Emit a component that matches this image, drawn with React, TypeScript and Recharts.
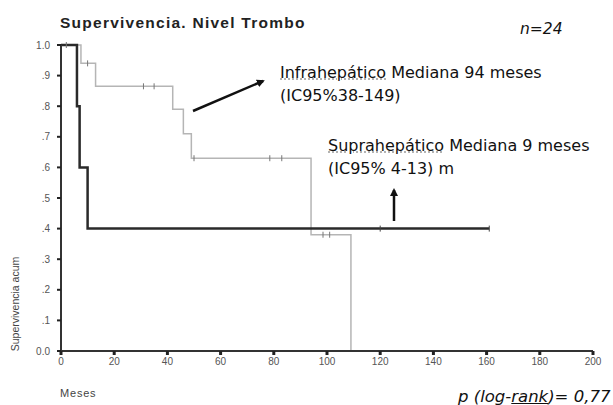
import React from 'react';
import { LineChart, Line, XAxis, YAxis } from 'recharts';

// meses / supervivencia acumulada (c = censurado)
const infraTimes = [0, 2, 7.5, 10, 13, 31, 35, 42, 46, 49, 50, 78.5, 83, 94, 98.5, 101, 109];
const infraSurv = [1, 1, 0.94, 0.94, 0.865, 0.865, 0.865, 0.79, 0.71, 0.63, 0.63, 0.63, 0.63, 0.38, 0.38, 0.38, 0];
const infraCens = [0, 1, 0, 1, 0, 1, 1, 0, 0, 0, 1, 1, 1, 0, 1, 1, 0];

const supraTimes = [0, 6, 7, 10, 120, 161];
const supraSurv = [1, 0.8, 0.6, 0.4, 0.4, 0.4];
const supraCens = [0, 0, 0, 0, 1, 1];

const xTicks = [0, 20, 40, 60, 80, 100, 120, 140, 160, 180, 200];
const yTicks = [0, 0.1, 0.2, 0.3, 0.4, 0.5, 0.6, 0.7, 0.8, 0.9, 1.0];
const yTickLabels = ['0.0', '.1', '.2', '.3', '.4', '.5', '.6', '.7', '.8', '.9', '1.0'];

const build = (t: number[], s: number[], c: number[]) => t.map((v, i) => ({ t: v, s: s[i], c: c[i] }));
const infraData = build(infraTimes, infraSurv, infraCens);
const supraData = build(supraTimes, supraSurv, supraCens);

const CensorDot = (color: string) => (props: any) => {
    const { cx, cy, payload, index } = props;
    if (!payload || !payload.c) return <g key={index} />;
    return <line key={index} x1={cx} x2={cx} y1={cy - 3} y2={cy + 3} stroke={color} strokeWidth={1} />;
};

const tickStyle = { fill: '#555', fontSize: 10, fontFamily: 'Liberation Sans, Arial, sans-serif' };
const annot: React.CSSProperties = { position: 'absolute', fontFamily: 'DejaVu Sans, Verdana, sans-serif', fontSize: 16, color: '#111', whiteSpace: 'nowrap', lineHeight: '23px' };

export default function App() {
    return (
        <div style={{ position: 'absolute', left: 0, top: 0, width: 613, height: 405, background: '#fff', overflow: 'hidden' }}>
            <LineChart width={613} height={405} margin={{ top: 45, right: 20, left: 31, bottom: 24 }}>
                <XAxis
                    dataKey="t"
                    type="number"
                    domain={[0, 200]}
                    ticks={xTicks}
                    allowDuplicatedCategory={false}
                    height={30}
                    tick={tickStyle}
                    tickSize={4}
                    tickMargin={3}
                    axisLine={{ stroke: '#333', strokeWidth: 2 }}
                    tickLine={{ stroke: '#222', strokeWidth: 3 }}
                />
                <YAxis
                    type="number"
                    domain={[0, 1]}
                    ticks={yTicks}
                    width={30}
                    tick={tickStyle}
                    tickSize={4}
                    tickMargin={7}
                    tickFormatter={(v: number) => yTickLabels[Math.round(v * 10)]}
                    axisLine={{ stroke: '#333', strokeWidth: 2 }}
                    tickLine={{ stroke: '#222', strokeWidth: 2 }}
                />
                <Line
                    data={infraData}
                    dataKey="s"
                    type="stepAfter"
                    stroke="#b5b5b5"
                    strokeWidth={1.5}
                    dot={CensorDot('#777')}
                    activeDot={false}
                    isAnimationActive={false}
                />
                <Line
                    data={supraData}
                    dataKey="s"
                    type="stepAfter"
                    stroke="#2a2a2a"
                    strokeWidth={2.5}
                    dot={CensorDot('#444')}
                    activeDot={false}
                    isAnimationActive={false}
                />
            </LineChart>

            <div style={{ position: 'absolute', left: 60, top: 14, lineHeight: '18px', fontFamily: 'Liberation Sans, Arial, sans-serif', fontWeight: 'bold', fontSize: 15.5, letterSpacing: 1.25, color: '#222' }}>
                Supervivencia. Nivel Trombo
            </div>
            <div style={{ ...annot, left: 520, top: 18, fontStyle: 'italic', fontSize: 15.5 }}>n=24</div>
            <div style={{ ...annot, left: 280, top: 61 }}>
                <span style={{ textDecoration: 'underline dotted #999' }}>Infrahepático</span> Mediana 94 meses<br />(IC95%38-149)
            </div>
            <div style={{ ...annot, left: 328, top: 134 }}>
                <span style={{ textDecoration: 'underline dotted #999' }}>Suprahepático</span> Mediana 9 meses<br />(IC95% 4-13) m
            </div>
            <div style={{ position: 'absolute', left: 60, top: 386, lineHeight: '14px', fontFamily: 'Liberation Sans, Arial, sans-serif', fontSize: 11, letterSpacing: 0.8, color: '#444' }}>Meses</div>
            <div style={{ ...annot, left: 458, top: 385, fontStyle: 'italic', fontSize: 16.5 }}>
                p (log-<span style={{ textDecoration: 'underline' }}>rank</span>)= 0,77
            </div>
            <div style={{ position: 'absolute', left: 15, top: 304, transform: 'translate(-50%, -50%) rotate(-90deg)', fontFamily: 'Liberation Sans, Arial, sans-serif', fontSize: 10.5, color: '#444', whiteSpace: 'nowrap' }}>
                Supervivencia acum
            </div>

            <svg width={613} height={405} style={{ position: 'absolute', left: 0, top: 0, pointerEvents: 'none' }}>
                <defs>
                    <marker id="ah" markerWidth="8" markerHeight="8" refX="6" refY="4" orient="auto" markerUnits="userSpaceOnUse">
                        <path d="M0,0 L8,4 L0,8 Z" fill="#111" />
                    </marker>
                </defs>
                <line x1={193} y1={111} x2={263} y2={81} stroke="#111" strokeWidth={2.5} markerEnd="url(#ah)" />
                <line x1={394} y1={221} x2={394} y2={190} stroke="#111" strokeWidth={2.5} markerEnd="url(#ah)" />
            </svg>
        </div>
    );
}
